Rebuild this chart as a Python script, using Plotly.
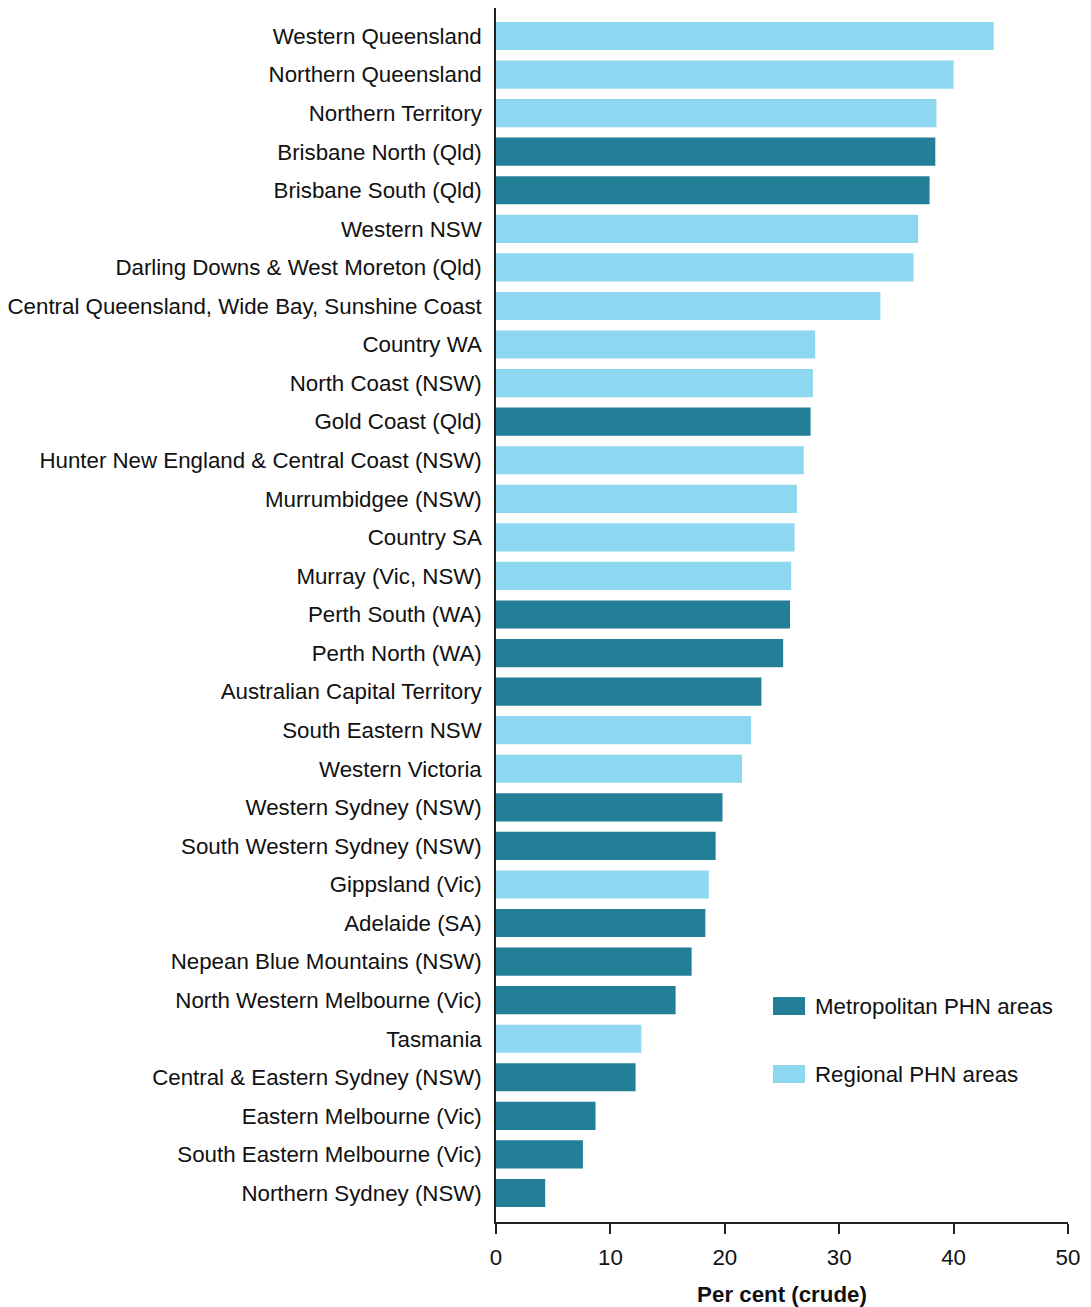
import plotly.graph_objects as go

categories = [
    "Western Queensland", "Northern Queensland", "Northern Territory",
    "Brisbane North (Qld)", "Brisbane South (Qld)", "Western NSW",
    "Darling Downs & West Moreton (Qld)", "Central Queensland, Wide Bay, Sunshine Coast",
    "Country WA", "North Coast (NSW)", "Gold Coast (Qld)",
    "Hunter New England & Central Coast (NSW)", "Murrumbidgee (NSW)", "Country SA",
    "Murray (Vic, NSW)", "Perth South (WA)", "Perth North (WA)",
    "Australian Capital Territory", "South Eastern NSW", "Western Victoria",
    "Western Sydney (NSW)", "South Western Sydney (NSW)", "Gippsland (Vic)",
    "Adelaide (SA)", "Nepean Blue Mountains (NSW)", "North Western Melbourne (Vic)",
    "Tasmania", "Central & Eastern Sydney (NSW)", "Eastern Melbourne (Vic)",
    "South Eastern Melbourne (Vic)", "Northern Sydney (NSW)",
]
values = [43.5, 40.0, 38.5, 38.4, 37.9, 36.9, 36.5, 33.6, 27.9, 27.7, 27.5, 26.9,
          26.3, 26.1, 25.8, 25.7, 25.1, 23.2, 22.3, 21.5, 19.8, 19.2, 18.6, 18.3,
          17.1, 15.7, 12.7, 12.2, 8.7, 7.6, 4.3]
area_type = ["R", "R", "R", "M", "M", "R", "R", "R", "R", "R", "M", "R", "R", "R",
             "R", "M", "M", "M", "R", "R", "M", "M", "R", "M", "M", "M", "R", "M",
             "M", "M", "M"]
series_names = {"M": "Metropolitan PHN areas", "R": "Regional PHN areas"}
x_ticks = [0, 10, 20, 30, 40, 50]

colors = {"M": "#237F98", "R": "#8DD7F0"}
FONT = "Liberation Sans, Arial, sans-serif"
FS = 22.3

fig = go.Figure()
for key in ["M", "R"]:
    ys = [c for c, t in zip(categories, area_type) if t == key]
    xs = [v for v, t in zip(values, area_type) if t == key]
    fig.add_trace(go.Bar(
        y=ys, x=xs, orientation="h", name=series_names[key],
        marker=dict(color=colors[key], line=dict(width=0)),
        width=0.73, showlegend=False,
    ))

fig.update_layout(
    width=1083, height=1299,
    margin=dict(l=488, r=23, t=0, b=85),
    paper_bgcolor="white", plot_bgcolor="white",
    barmode="overlay",
    font=dict(family=FONT, size=FS, color="#111111"),
    xaxis=dict(
        range=[0, 50], tickvals=x_ticks, showgrid=False, zeroline=False,
        showline=True, linecolor="#222222", linewidth=1.5,
        ticks="outside", ticklen=10, tickcolor="#222222", tickwidth=1.5,
        ticklabelstandoff=4,
        tickfont=dict(size=FS, family=FONT, color="#111111"),
        title=dict(text="<b>Per cent (crude)</b>", font=dict(size=FS, family=FONT, color="#111111"), standoff=18),
    ),
    yaxis=dict(
        type="category", categoryorder="array", categoryarray=categories,
        range=[30.752, -0.726], showgrid=False, zeroline=False,
        showline=True, linecolor="#222222", linewidth=1.5, ticks="",
        ticklabelstandoff=8,
        tickfont=dict(size=FS, family=FONT, color="#111111"),
    ),
)

# custom legend
legend_items = [("M", 0.1779), ("R", 0.1219)]
for key, yc in legend_items:
    fig.add_shape(type="rect", xref="paper", yref="paper",
                  x0=0.4843, x1=0.5402, y0=yc - 0.0074, y1=yc + 0.0074,
                  fillcolor=colors[key], line=dict(width=0))
    fig.add_annotation(xref="paper", yref="paper", x=0.5577, y=yc,
                       text=series_names[key], showarrow=False,
                       xanchor="left", yanchor="middle", xshift=-2,
                       font=dict(size=FS, family=FONT, color="#111111"))

fig.write_html("out.html")
